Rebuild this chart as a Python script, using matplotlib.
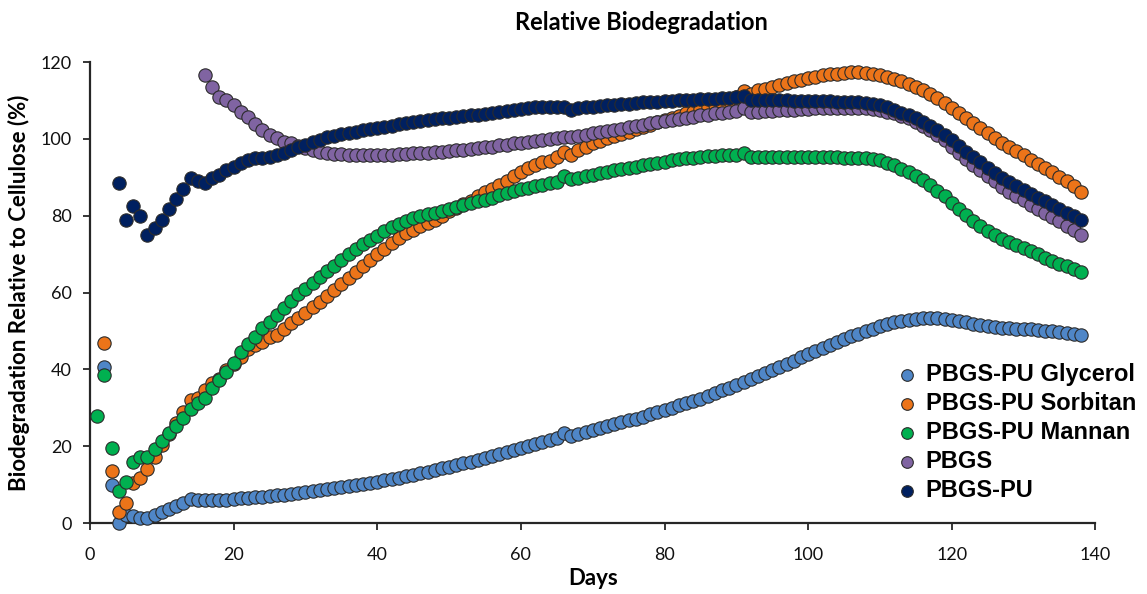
import matplotlib
matplotlib.use("Agg")
import matplotlib.pyplot as plt
import numpy as np

# first day of each series, values are one per day up to day 138
glycerol_start = 2
glycerol = [40.6, 9.8, 0.0, 2.2, 1.8, 1.3, 1.2, 2.2, 2.8, 3.6, 4.3, 5.3, 6.3, 5.9, 5.9, 6.0, 6.0, 6.1, 6.3,
            6.4, 6.6, 6.8, 6.9, 7.1, 7.2, 7.4, 7.6, 7.8, 8.0, 8.3, 8.6, 8.8, 9.1, 9.4, 9.6, 9.9, 10.2, 10.5,
            10.8, 11.1, 11.5, 11.8, 12.2, 12.6, 13.0, 13.4, 13.8, 14.2, 14.7, 15.1, 15.6, 16.0, 16.5, 17.0,
            17.5, 18.0, 18.5, 19.0, 19.5, 20.0, 20.6, 21.1, 21.6, 22.1, 23.4, 22.6, 23.1, 23.6, 24.2, 24.7,
            25.2, 25.7, 26.2, 26.7, 27.2, 27.7, 28.3, 28.8, 29.4, 30.0, 30.6, 31.2, 31.8, 32.4, 33.1, 33.8,
            34.5, 35.2, 35.9, 36.7, 37.5, 38.3, 39.1, 39.9, 40.7, 41.5, 42.3, 43.1, 43.9, 44.7, 45.5, 46.3,
            47.1, 47.9, 48.6, 49.3, 50.0, 50.6, 51.2, 51.7, 52.2, 52.6, 52.9, 53.1, 53.3, 53.4, 53.4, 53.2,
            52.9, 52.6, 52.2, 51.8, 51.5, 51.2, 51.0, 50.8, 50.7, 50.6, 50.5, 50.4, 50.3, 50.1, 49.9, 49.7,
            49.5, 49.3, 49.0]

sorbitan_start = 2
sorbitan = [46.8, 13.5, 2.8, 5.1, 10.3, 11.8, 14.1, 17.1, 20.3, 23.3, 26.0, 29.0, 32.0, 32.5, 34.6, 36.4,
            37.6, 39.8, 41.4, 43.3, 45.2, 46.4, 47.2, 48.4, 49.0, 50.4, 52.0, 53.3, 54.6, 56.1, 57.6, 59.1,
            60.7, 62.2, 63.7, 65.4, 66.9, 68.5, 70.0, 71.4, 72.8, 74.3, 75.4, 76.3, 77.2, 78.0, 78.9, 80.0,
            81.1, 81.9, 83.0, 83.9, 85.0, 86.1, 87.0, 88.0, 89.1, 90.2, 91.5, 92.4, 93.2, 93.9, 94.3, 95.4,
            96.7, 95.8, 97.1, 98.0, 98.9, 99.5, 100.1, 100.7, 101.3, 101.9, 102.5, 103.1, 103.7, 104.3,
            104.9, 105.5, 106.0, 106.6, 107.1, 107.7, 108.2, 108.8, 109.3, 110.0, 111.0, 112.5, 111.8,
            112.6, 113.0, 113.5, 114.0, 114.5, 115.0, 115.4, 115.8, 116.2, 116.5, 116.8, 117.0, 117.2,
            117.3, 117.3, 117.2, 117.0, 116.6, 116.2, 115.7, 115.1, 114.4, 113.6, 112.7, 111.7, 110.6,
            109.3, 108.0, 106.7, 105.3, 104.0, 102.7, 101.4, 100.2, 99.0, 97.9, 96.8, 95.7, 94.6, 93.5,
            92.4, 91.3, 90.1, 88.9, 87.6, 86.1]

mannan_start = 1
mannan = [27.9, 38.5, 19.6, 8.3, 10.6, 15.8, 17.1, 17.1, 19.2, 21.4, 23.5, 25.3, 27.4, 29.8, 31.2, 32.6,
          35.1, 37.2, 39.4, 41.7, 44.4, 46.6, 48.5, 50.7, 52.4, 54.2, 55.9, 57.9, 59.5, 61.0, 62.6, 64.1,
          65.6, 67.0, 68.5, 70.0, 71.3, 72.6, 73.7, 74.8, 75.9, 77.0, 77.8, 78.6, 79.3, 79.9, 80.4, 80.7,
          81.2, 81.7, 82.2, 82.7, 83.2, 83.7, 84.2, 84.7, 85.3, 85.9, 86.4, 86.9, 87.3, 87.7, 88.1, 88.4,
          88.8, 90.3, 89.6, 89.9, 90.3, 90.7, 91.1, 91.4, 91.8, 92.1, 92.5, 92.8, 93.2, 93.5, 93.8, 94.1,
          94.4, 94.7, 94.9, 95.1, 95.3, 95.5, 95.6, 95.7, 95.8, 95.9, 96.3, 95.4, 95.3, 95.3, 95.3, 95.3,
          95.3, 95.3, 95.3, 95.3, 95.3, 95.3, 95.2, 95.2, 95.1, 95.0, 94.9, 95.1, 94.8, 94.4, 93.8, 93.1,
          92.2, 91.3, 90.3, 89.2, 87.9, 86.5, 85.0, 83.3, 81.7, 80.2, 78.7, 77.3, 76.1, 75.0, 74.0, 73.1,
          72.3, 71.5, 70.7, 69.9, 69.1, 68.3, 67.5, 66.8, 66.1, 65.4]

pbgs_start = 16
pbgs = [116.5, 113.5, 111.0, 110.0, 108.7, 107.1, 105.6, 103.9, 102.3, 101.0, 100.2, 99.3, 98.8, 98.2,
        97.6, 97.0, 96.6, 96.3, 96.1, 96.0, 95.9, 95.9, 95.8, 95.8, 95.8, 95.9, 95.9, 96.0, 96.1, 96.2,
        96.3, 96.4, 96.5, 96.7, 96.8, 97.0, 97.2, 97.4, 97.6, 97.8, 98.0, 98.3, 98.5, 98.8, 99.0, 99.3,
        99.5, 99.8, 100.0, 100.2, 100.4, 100.6, 100.8, 101.1, 101.4, 101.7, 102.0, 102.3, 102.6, 103.0,
        103.3, 103.7, 104.0, 104.3, 104.6, 104.9, 105.2, 105.5, 105.8, 106.1, 106.3, 106.6, 106.8,
        107.0, 107.2, 108.0, 107.0, 107.1, 107.2, 107.3, 107.4, 107.5, 107.6, 107.7, 107.8, 107.9,
        108.0, 108.0, 108.0, 108.0, 108.0, 108.0, 107.9, 107.8, 107.4, 107.0, 106.6, 106.0, 105.3,
        104.5, 103.4, 102.2, 101.0, 99.6, 98.0, 96.2, 94.8, 93.3, 91.9, 90.4, 88.9, 87.5, 86.2, 85.1,
        84.0, 82.9, 81.8, 80.7, 79.6, 78.5, 77.3, 76.2, 75.0]

pbgs_pu_start = 4
pbgs_pu = [88.6, 78.9, 82.6, 80.0, 75.0, 76.8, 78.9, 81.7, 84.4, 86.9, 89.7, 88.9, 88.6, 89.7, 90.6, 91.9,
           92.8, 93.8, 94.5, 94.9, 94.9, 95.4, 95.8, 96.2, 97.1, 97.8, 98.4, 99.3, 99.7, 100.4, 100.8,
           101.3, 101.6, 101.9, 102.3, 102.5, 102.8, 103.1, 103.4, 103.8, 104.1, 104.4, 104.7, 104.9,
           105.1, 105.3, 105.5, 105.7, 105.9, 106.1, 106.3, 106.5, 106.7, 106.9, 107.2, 107.5, 107.8,
           108.0, 108.2, 108.3, 108.4, 108.4, 108.2, 107.6, 108.0, 108.2, 108.4, 108.6, 108.7, 108.9,
           109.0, 109.2, 109.3, 109.5, 109.6, 109.7, 109.8, 109.9, 110.0, 110.1, 110.2, 110.3, 110.4,
           110.5, 110.6, 110.7, 110.8, 111.1, 110.1, 110.0, 110.0, 110.0, 110.0, 110.0, 109.9, 109.9,
           109.9, 109.9, 109.8, 109.8, 109.7, 109.7, 109.6, 109.5, 109.4, 109.2, 108.8, 108.3, 107.6,
           106.8, 106.1, 105.3, 104.4, 103.4, 102.3, 101.0, 99.6, 98.1, 96.7, 95.3, 93.9, 92.5, 91.2,
           89.9, 88.8, 87.7, 86.7, 85.7, 84.7, 83.7, 82.7, 81.7, 80.8, 79.9, 78.9]

labels = ["PBGS-PU Glycerol", "PBGS-PU Sorbitan", "PBGS-PU Mannan", "PBGS", "PBGS-PU"]
colors = ["#4f86c7", "#ec7419", "#00b050", "#8064a2", "#002060"]
series = [(glycerol_start, glycerol), (sorbitan_start, sorbitan), (mannan_start, mannan),
          (pbgs_start, pbgs), (pbgs_pu_start, pbgs_pu)]

narrow = ["Lato", "DejaVu Sans"]

fig = plt.figure(figsize=(11.47, 5.94), dpi=100)
ax = fig.add_axes([0.0785, 0.1195, 0.8765, 0.7761])

for (start, vals), lab, col in zip(series, labels, colors):
    days = np.arange(start, start + len(vals))
    ax.scatter(days, vals, s=92, color=col, edgecolors="#2b2b2b", linewidths=0.8, label=lab,
               zorder=3, clip_on=False)

ax.set_xlim(0, 140)
ax.set_ylim(0, 120)
ax.set_xticks(range(0, 141, 20))
ax.set_yticks(range(0, 121, 20))
for s in ["top", "right"]:
    ax.spines[s].set_visible(False)
for s in ["left", "bottom"]:
    ax.spines[s].set_linewidth(1.6)
    ax.spines[s].set_color("#262626")
ax.tick_params(axis="both", direction="out", length=5, width=1.3, color="#262626",
               labelsize=13, labelcolor="#111111")
for t in ax.get_xticklabels() + ax.get_yticklabels():
    t.set_family(narrow)
ax.tick_params(axis="x", pad=12)
ax.tick_params(axis="y", pad=8)

fig.text(0.559, 0.962, "Relative Biodegradation", ha="center", va="center", fontsize=17,
         fontweight="bold", family=narrow)
ax.set_xlabel("Days", fontsize=16, fontweight="bold", family=narrow, labelpad=4)
ax.set_ylabel("Biodegradation Relative to Cellulose (%)", fontsize=16, fontweight="bold",
              family=narrow, labelpad=8)

leg = fig.legend(loc="upper left", bbox_to_anchor=(0.771, 0.405), frameon=False,
                 prop={"family": "Liberation Sans", "weight": "bold", "size": 17},
                 handletextpad=0.25, labelspacing=0.26, borderaxespad=0, handlelength=1.1)
for h in leg.legend_handles:
    h.set_sizes([70])

fig.savefig("out.png", dpi=100)
